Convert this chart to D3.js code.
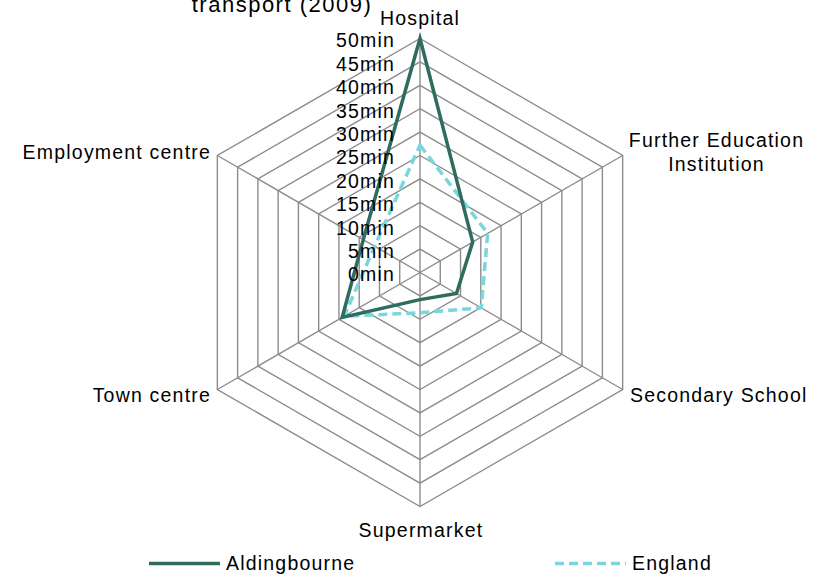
<!DOCTYPE html>
<html>
<head>
<meta charset="utf-8">
<script src="https://cdn.jsdelivr.net/npm/d3@7"></script>
<style>
  html, body { margin: 0; padding: 0; background: #fff; }
  svg { display: block; }
  text { font-family: "Liberation Sans", Arial, sans-serif; fill: #000; }
</style>
</head>
<body>
<svg id="chart" width="819" height="575"></svg>
<script>
// Average minimum travel time to key services (minutes)
const categories = ["Hospital", "Further Education Institution", "Secondary School", "Supermarket", "Town centre", "Employment centre"];
const aldingbourne = [50, 13, 9, 5.8, 19.2, 14.0];
const england = [27.2, 16.7, 15.1, 8.6, 18.7, 11.2];
const tickValues = [0, 5, 10, 15, 20, 25, 30, 35, 40, 45, 50];
const tickLabels = ["0min", "5min", "10min", "15min", "20min", "25min", "30min", "35min", "40min", "45min", "50min"];
const seriesNames = ["Aldingbourne", "England"];
const titleText = "transport (2009)";

const W = 819, H = 575;
const cx = 420, cy = 272.5, R = 234;
const svg = d3.select("#chart");
const FONT = 19.5, SPACING = 1.2;

const r = d3.scaleLinear().domain([0, 50]).range([0, R]);
const angle = d3.scalePoint().domain(d3.range(categories.length)).range([0, 2 * Math.PI * (categories.length - 1) / categories.length]);

const g = svg.append("g").attr("transform", `translate(${cx},${cy})`);

// title (last line)
svg.append("text")
  .attr("x", 282).attr("y", 11.5)
  .attr("text-anchor", "middle")
  .style("font-size", "22px")
  .style("letter-spacing", "1.5px")
  .text(titleText);

// hexagonal grid rings
const ring = d3.lineRadial().curve(d3.curveLinearClosed);
g.selectAll("path.ring")
  .data(tickValues.filter(v => v > 0))
  .join("path")
  .attr("class", "ring")
  .attr("d", v => ring(categories.map((c, i) => [angle(i), r(v)])))
  .attr("fill", "none")
  .attr("stroke", "#8c8c8c")
  .attr("stroke-width", 1.4);

// spokes
g.selectAll("line.spoke")
  .data(categories)
  .join("line")
  .attr("class", "spoke")
  .attr("x1", 0).attr("y1", 0)
  .attr("x2", (d, i) => r(50) * Math.sin(angle(i)))
  .attr("y2", (d, i) => -r(50) * Math.cos(angle(i)))
  .attr("stroke", "#8c8c8c")
  .attr("stroke-width", 1.4);

// series
const line = d3.lineRadial()
  .angle((d, i) => angle(i))
  .radius(d => r(d))
  .curve(d3.curveLinearClosed);

g.append("path")
  .attr("d", line(england))
  .attr("fill", "none")
  .attr("stroke", "#79d6dc")
  .attr("stroke-width", 3.5)
  .attr("stroke-dasharray", "9,5")
  .attr("stroke-linejoin", "round");

g.append("path")
  .attr("d", line(aldingbourne))
  .attr("fill", "none")
  .attr("stroke", "#2f6b5e")
  .attr("stroke-width", 3.5)
  .attr("stroke-linejoin", "miter");

// radial tick labels
g.selectAll("text.tick")
  .data(tickValues)
  .join("text")
  .attr("class", "tick")
  .attr("x", -25)
  .attr("y", v => -r(v) + 2)
  .attr("dy", "0.35em")
  .attr("text-anchor", "end")
  .style("font-size", FONT + "px")
  .style("letter-spacing", SPACING + "px")
  .text((v, i) => tickLabels[i]);

// category labels
const labelPos = [
  { x: 420, y: 25, anchor: "middle", lines: ["Hospital"] },
  { x: 716.5, y: 147, anchor: "middle", lines: ["Further Education", "Institution"] },
  { x: 630, y: 402, anchor: "start", lines: ["Secondary School"] },
  { x: 421, y: 537, anchor: "middle", lines: ["Supermarket"] },
  { x: 211, y: 402, anchor: "end", lines: ["Town centre"] },
  { x: 211, y: 158.5, anchor: "end", lines: ["Employment centre"] }
];
categories.forEach((c, i) => {
  const p = labelPos[i];
  const t = svg.append("text")
    .attr("x", p.x).attr("y", p.y)
    .attr("text-anchor", p.anchor)
    .style("font-size", FONT + "px")
    .style("letter-spacing", SPACING + "px");
  const words = p.lines;
  words.forEach((w, k) => {
    t.append("tspan").attr("x", p.x).attr("dy", k === 0 ? 0 : 23.5).text(w);
  });
});

// legend
const legend = svg.append("g");
const legendItems = [
  { name: seriesNames[0], x: 149, color: "#2f6b5e", dash: null },
  { name: seriesNames[1], x: 555, color: "#79d6dc", dash: "9,5" }
];
legendItems.forEach(it => {
  legend.append("line")
    .attr("x1", it.x).attr("x2", it.x + 71)
    .attr("y1", 563.5).attr("y2", 563.5)
    .attr("stroke", it.color)
    .attr("stroke-width", 3.5)
    .attr("stroke-dasharray", it.dash);
  legend.append("text")
    .attr("x", it.x + 77).attr("y", 563.5)
    .attr("dy", "0.35em")
    .style("font-size", FONT + "px")
    .style("letter-spacing", SPACING + "px")
    .text(it.name);
});
</script>
</body>
</html>
